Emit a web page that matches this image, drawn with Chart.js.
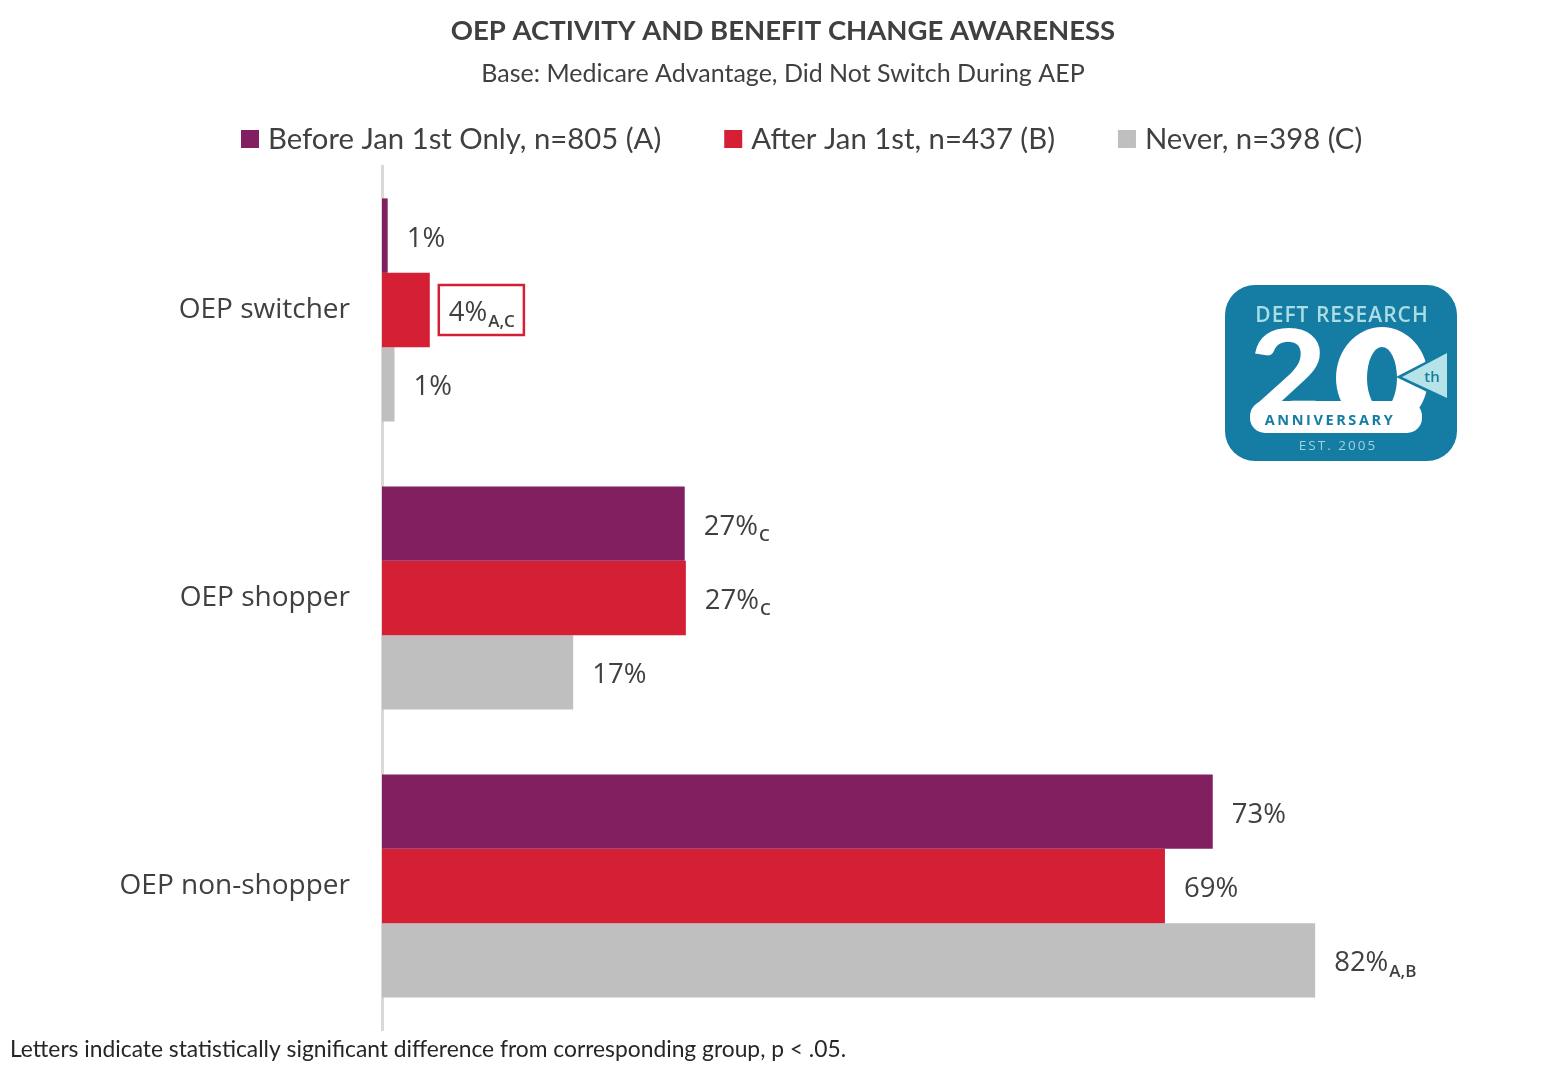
<!DOCTYPE html>
<html><head><meta charset="utf-8">
<script src="https://cdn.jsdelivr.net/npm/chart.js@4"></script>
<style>html,body{margin:0;padding:0;background:#fff;overflow:hidden}canvas{display:block}</style>
</head><body>
<canvas id="c" width="1564" height="1066"></canvas>
<script>
const categories = ['OEP switcher', 'OEP shopper', 'OEP non-shopper'];
const seriesNames = ['Before Jan 1st Only, n=805 (A)', 'After Jan 1st, n=437 (B)', 'Never, n=398 (C)'];
const seriesColors = ['#821f61', '#d41f35', '#bfbfbf'];
const beforeJan1 = [0.5, 26.6, 73.0];
const afterJan1 = [4.2, 26.7, 68.8];
const never = [1.1, 16.8, 82.0];
const beforeLabels = ['1%', '27%', '73%'];
const afterLabels = ['4%', '27%', '69%'];
const neverLabels = ['1%', '17%', '82%'];
const beforeSig = ['', 'C', ''];
const afterSig = ['A,C', 'C', ''];
const neverSig = ['', '', 'A,B'];
const beforeBoxed = [false, false, false];
const afterBoxed = [true, false, false];
const neverBoxed = [false, false, false];
const xTicksMax = 100;

const TXT = '#404040';
const CAL = 'Lato, "Open Sans", sans-serif';
const SEG = '"Open Sans", "Noto Sans", sans-serif';

const labelPlugin = {
  id: 'valueLabels',
  afterDatasetsDraw(chart) {
    const ctx = chart.ctx;
    chart.data.datasets.forEach((ds, di) => {
      const meta = chart.getDatasetMeta(di);
      meta.data.forEach((bar, i) => {
        const x = bar.x + 19, yb = bar.y + 11;
        ctx.save();
        ctx.textAlign = 'left';
        ctx.textBaseline = 'alphabetic';
        ctx.fillStyle = TXT;
        ctx.font = '27.5px ' + SEG;
        const main = ds.valueLabels[i];
        ctx.fillText(main, x, yb);
        let w = ctx.measureText(main).width;
        const sub = ds.sig[i];
        if (sub) {
          ctx.font = '600 17px ' + SEG;
          ctx.fillText(sub, x + w + 1, yb + 6);
          w += 1 + ctx.measureText(sub).width;
        }
        if (ds.boxed[i]) {
          ctx.strokeStyle = '#d42035';
          ctx.lineWidth = 2.5;
          ctx.strokeRect(x - 10, bar.y - 25, w + 19, 50);
        }
        ctx.restore();
      });
    });
  }
};

function roundRect(ctx, x, y, w, h, r) {
  ctx.beginPath();
  ctx.moveTo(x + r, y);
  ctx.arcTo(x + w, y, x + w, y + h, r);
  ctx.arcTo(x + w, y + h, x, y + h, r);
  ctx.arcTo(x, y + h, x, y, r);
  ctx.arcTo(x, y, x + w, y, r);
  ctx.closePath();
}

function drawLogo(ctx, x, y, w, h) {
  const blue = '#157ca3';
  ctx.save();
  roundRect(ctx, x, y, w, h, 30);
  ctx.fillStyle = blue;
  ctx.fill();
  const cx = x + w / 2;
  ctx.textAlign = 'center';
  ctx.textBaseline = 'alphabetic';
  ctx.fillStyle = '#abdde4';
  ctx.font = '600 21px ' + SEG;
  ctx.letterSpacing = '1px';
  ctx.fillText('DEFT RESEARCH', cx + 1, y + 37);
  // white "0" ring
  ctx.fillStyle = '#ffffff';
  ctx.beginPath();
  ctx.ellipse(x + 157, y + 93, 46, 51, 0, 0, Math.PI * 2);
  ctx.fill();
  ctx.fillStyle = blue;
  ctx.beginPath();
  ctx.ellipse(x + 157, y + 93, 15, 31, 0, 0, Math.PI * 2);
  ctx.fill();
  // triangle notch with "th"
  ctx.beginPath();
  ctx.moveTo(x + 171, y + 92);
  ctx.lineTo(x + 225, y + 64);
  ctx.lineTo(x + 225, y + 118);
  ctx.closePath();
  ctx.fill();
  ctx.beginPath();
  ctx.moveTo(x + 177, y + 92);
  ctx.lineTo(x + 222, y + 68);
  ctx.lineTo(x + 222, y + 113);
  ctx.closePath();
  ctx.fillStyle = '#b5e3e8';
  ctx.fill();
  ctx.fillStyle = blue;
  ctx.font = '600 15px ' + SEG;
  ctx.letterSpacing = '0px';
  ctx.fillText('th', x + 207, y + 97);
  // banner
  ctx.fillStyle = '#ffffff';
  roundRect(ctx, x + 25, y + 116, 172, 32, 15);
  ctx.fill();
  // big 2
  ctx.save();
  ctx.translate(x + 24, y + 131);
  ctx.scale(1.12, 1);
  ctx.textAlign = 'left';
  ctx.font = '900 120px Lato, sans-serif';
  ctx.fillText('2', 0, 0);
  ctx.restore();
  ctx.letterSpacing = '2.6px';
  ctx.textAlign = 'center';
  ctx.fillStyle = blue;
  ctx.font = '700 14.5px ' + SEG;
  ctx.fillText('ANNIVERSARY', x + 105, y + 140);
  ctx.fillStyle = '#9fd3dc';
  ctx.font = '13.5px ' + SEG;
  ctx.letterSpacing = '2px';
  ctx.fillText('EST. 2005', x + 113, y + 165);
  ctx.restore();
}

const decorPlugin = {
  id: 'decor',
  afterDraw(chart) {
    const ctx = chart.ctx;
    ctx.save();
    ctx.fillStyle = TXT;
    ctx.textAlign = 'center';
    ctx.textBaseline = 'middle';
    ctx.font = 'bold 27.5px ' + CAL;
    ctx.fillText('OEP ACTIVITY AND BENEFIT CHANGE AWARENESS', 783, 31);
    ctx.font = '25px ' + CAL;
    ctx.fillText('Base: Medicare Advantage, Did Not Switch During AEP', 783, 74);
    // legend
    ctx.font = '29.3px ' + CAL;
    ctx.textAlign = 'left';
    let lx = 241;
    chart.data.datasets.forEach((ds) => {
      ctx.fillStyle = ds.backgroundColor;
      ctx.fillRect(lx, 130, 18, 18);
      ctx.fillStyle = TXT;
      ctx.fillText(ds.label, lx + 27, 140);
      lx += 27 + ctx.measureText(ds.label).width + 63;
    });
    // footnote
    ctx.fillStyle = '#262626';
    ctx.font = '22.8px ' + CAL;
    ctx.fillText('Letters indicate statistically significant difference from corresponding group, p < .05.', 10, 1050);
    drawLogo(ctx, 1225, 285, 232, 176);
    ctx.restore();
  }
};

const mk = (i, data, labels, sig, boxed) => ({
  label: seriesNames[i], data, backgroundColor: seriesColors[i], borderWidth: 0,
  valueLabels: labels, sig, boxed,
  categoryPercentage: 0.775, barPercentage: 1.0
});

new Chart(document.getElementById('c'), {
  type: 'bar',
  data: {
    labels: categories,
    datasets: [
      mk(0, beforeJan1, beforeLabels, beforeSig, beforeBoxed),
      mk(1, afterJan1, afterLabels, afterSig, afterBoxed),
      mk(2, never, neverLabels, neverSig, neverBoxed)
    ]
  },
  options: {
    indexAxis: 'y',
    responsive: false,
    animation: false,
    devicePixelRatio: 1,
    layout: { padding: { top: 166, right: 44, bottom: 36, left: 0 } },
    plugins: { legend: { display: false }, title: { display: false }, tooltip: { enabled: false } },
    scales: {
      x: { display: false, min: 0, max: xTicksMax },
      y: {
        grid: { display: false, drawTicks: false },
        border: { display: true, color: '#d9d9d9', width: 3 },
        ticks: { font: { family: 'Open Sans', size: 28 }, color: TXT, padding: 32 },
        afterFit(s) { s.width = 382; s.paddingTop = 0; s.paddingBottom = 0; }
      }
    }
  },
  plugins: [labelPlugin, decorPlugin]
});
</script>
</body></html>
